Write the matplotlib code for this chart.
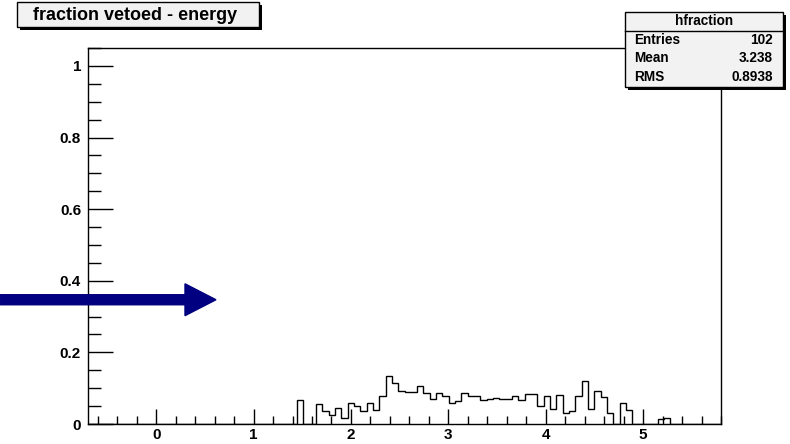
import numpy as np
import matplotlib
matplotlib.use("Agg")
import matplotlib.pyplot as plt
from matplotlib.patches import Rectangle, FancyArrow
from matplotlib.ticker import MultipleLocator

plt.rcParams['font.family'] = ['Liberation Sans', 'DejaVu Sans']
plt.rcParams['font.weight'] = 'bold'

# Histogram definition: 100 bins on [-0.7, 5.8]
x_min, x_max, n_bins = -0.7, 5.8, 100
fraction = ([0.0] * 33 +
            [0.066, 0.0, 0.0, 0.055, 0.035, 0.025, 0.046, 0.018, 0.058, 0.051,
             0.036, 0.058, 0.039, 0.079, 0.135, 0.114, 0.092, 0.090, 0.090, 0.105,
             0.086, 0.071, 0.086, 0.079, 0.060, 0.063, 0.086, 0.079, 0.077, 0.067,
             0.070, 0.074, 0.070, 0.070, 0.079, 0.067, 0.084, 0.084, 0.049, 0.079,
             0.041, 0.081, 0.032, 0.036, 0.077, 0.119, 0.042, 0.093, 0.075, 0.032,
             0.0, 0.060, 0.039, 0.0, 0.0, 0.0, 0.0, 0.015, 0.018] +
            [0.0] * 8)

title_text = "fraction vetoed - energy"
stats_name = "hfraction"
stats_rows = [("Entries", "102"), ("Mean", "3.238"), ("RMS", "0.8938")]
arrow_level = 0.347

W, H = 790, 444
fig = plt.figure(figsize=(W / 100, H / 100), dpi=100)
fig.patch.set_facecolor('white')


def fx(px):
    return px / W


def fy(py):
    return 1 - py / H


ax = fig.add_axes([fx(88), fy(424), fx(721) - fx(88), fy(48) - fy(424)])
edges = np.linspace(x_min, x_max, n_bins + 1)
ax.stairs(fraction, edges, baseline=0, color='black', linewidth=1.0)

ax.set_xlim(x_min, x_max)
ax.set_ylim(0, 1.05)
for s in ax.spines.values():
    s.set_linewidth(1.0)

ax.xaxis.set_major_locator(MultipleLocator(1))
ax.xaxis.set_minor_locator(MultipleLocator(0.2))
ax.yaxis.set_major_locator(MultipleLocator(0.2))
ax.yaxis.set_minor_locator(MultipleLocator(0.05))
ax.tick_params(axis='x', which='major', direction='in', length=11, width=1,
               pad=3, labelsize=11, top=False)
ax.tick_params(axis='x', which='minor', direction='in', length=6, width=1, top=False)
ax.tick_params(axis='y', which='major', direction='in', length=18, width=1,
               pad=5, labelsize=11, right=False)
ax.tick_params(axis='y', which='minor', direction='in', length=9, width=1, right=False)
ax.set_xticks([0, 1, 2, 3, 4, 5])
ax.set_xticklabels(['0', '1', '2', '3', '4', '5'], fontweight='bold')
ax.set_yticks([0, 0.2, 0.4, 0.6, 0.8, 1.0])
ax.set_yticklabels(['0', '0.2', '0.4', '0.6', '0.8', '1'], fontweight='bold')

# Marker arrow pointing into the plot
arr = FancyArrow(-1.603, arrow_level, 0.614 + 1.603, 0, width=0.028,
                 head_width=0.089, head_length=0.318, length_includes_head=True,
                 color='#000080', clip_on=False, zorder=5)
ax.add_patch(arr)


def pave(x0, y0, x1, y1, shadow=3, face='#f2f2f2'):
    fig.patches.append(Rectangle((fx(x0 + shadow), fy(y1 + shadow)),
                                 fx(x1) - fx(x0), fy(y0) - fy(y1),
                                 transform=fig.transFigure, facecolor='black',
                                 edgecolor='black', linewidth=0, zorder=10))
    fig.patches.append(Rectangle((fx(x0), fy(y1)), fx(x1) - fx(x0), fy(y0) - fy(y1),
                                 transform=fig.transFigure, facecolor=face,
                                 edgecolor='black', linewidth=1.0, zorder=11))


# Title pave
pave(17, 2, 259, 27)
fig.text(fx(33), fy(15), title_text, ha='left', va='center', fontsize=13,
         fontweight='bold', zorder=12)

# Statistics box
pave(625, 12, 783, 87)
fig.add_artist(plt.Line2D([fx(625), fx(783)], [fy(31), fy(31)], color='black',
                          linewidth=1.0, transform=fig.transFigure, zorder=12))
fig.text(fx(704), fy(21), stats_name, ha='center', va='center', fontsize=9.8,
         fontweight='bold', zorder=12)
for i, (k, v) in enumerate(stats_rows):
    yy = fy(40 + 18.5 * i)
    fig.text(fx(634), yy, k, ha='left', va='center', fontsize=9.8,
             fontweight='bold', zorder=12)
    fig.text(fx(773), yy, v, ha='right', va='center', fontsize=9.8,
             fontweight='bold', zorder=12)

fig.savefig('out.png', dpi=100)
